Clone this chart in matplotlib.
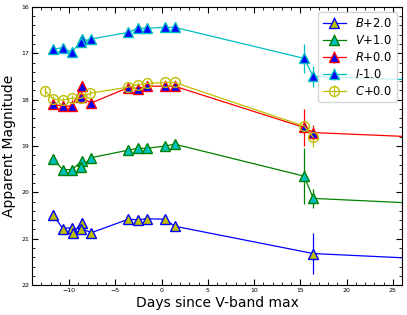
import matplotlib
matplotlib.use("Agg")
import matplotlib.pyplot as plt
from matplotlib.ticker import MultipleLocator

# ---- data ----
b_x = [-11.7, -10.7, -9.7, -9.6, -8.6, -8.7, -7.6, -3.6, -2.6, -1.6, 0.4, 1.4, 16.4]
b_y = [20.49, 20.78, 20.76, 20.87, 20.66, 20.78, 20.87, 20.58, 20.59, 20.57, 20.58, 20.73, 21.32]
b_e = [0.04, 0.05, 0.05, 0.05, 0.05, 0.05, 0.05, 0.04, 0.04, 0.04, 0.04, 0.05, 0.45]

v_x = [-11.7, -10.7, -9.7, -8.6, -8.7, -7.6, -3.6, -2.6, -1.6, 0.4, 1.4, 15.4, 16.4]
v_y = [19.28, 19.51, 19.51, 19.32, 19.46, 19.25, 19.09, 19.05, 19.05, 19.00, 18.96, 19.65, 20.13]
v_e = [0.03, 0.04, 0.04, 0.04, 0.04, 0.03, 0.03, 0.03, 0.03, 0.03, 0.03, 0.60, 0.20]

r_x = [-11.7, -10.7, -9.7, -8.6, -8.7, -7.6, -3.6, -2.6, -1.6, 0.4, 1.4, 15.4, 16.4]
r_y = [18.10, 18.14, 18.14, 17.71, 17.95, 18.07, 17.74, 17.76, 17.71, 17.71, 17.71, 18.60, 18.71]
r_e = [0.03, 0.04, 0.04, 0.04, 0.04, 0.03, 0.03, 0.03, 0.03, 0.03, 0.03, 0.40, 0.16]

i_x = [-11.7, -10.7, -9.7, -8.6, -8.7, -7.6, -3.6, -2.6, -1.6, 0.4, 1.4, 15.4, 16.4]
i_y = [16.91, 16.88, 16.98, 16.70, 16.75, 16.69, 16.55, 16.46, 16.46, 16.44, 16.44, 17.11, 17.50]
i_e = [0.04, 0.04, 0.06, 0.04, 0.04, 0.04, 0.03, 0.03, 0.03, 0.03, 0.03, 0.31, 0.22]

c_x = [-12.6, -11.7, -10.7, -9.7, -8.7, -7.7, -3.6, -2.6, -1.6, 0.4, 1.4, 15.4, 16.4]
c_y = [17.81, 17.99, 18.01, 17.97, 17.97, 17.86, 17.73, 17.68, 17.65, 17.63, 17.63, 18.57, 18.81]
c_e = [0.09, 0.07, 0.07, 0.07, 0.07, 0.07, 0.06, 0.06, 0.06, 0.06, 0.06, 0.10, 0.21]

# line continuation beyond the last epoch (model tail)
tail_x = [16.4, 27.0]
b_tail = [21.32, 21.42]
v_tail = [20.13, 20.23]
r_tail = [18.71, 18.80]
i_tail = [17.50, 17.57]

labels = ["$B$+2.0", "$V$+1.0", "$R$+0.0", "$I$-1.0", "$C$+0.0"]

fig = plt.figure(figsize=(4.07, 3.15), dpi=100)
ax = fig.add_axes([0.079, 0.095, 0.909, 0.883])

ms = 7
lw = 0.9
ax.errorbar(b_x, b_y, yerr=b_e, fmt='-^', color='b', mfc=(0.75, 0.75, 0), mec='b',
            ms=ms, lw=lw, elinewidth=lw, capsize=0, label=labels[0])
ax.errorbar(v_x, v_y, yerr=v_e, fmt='-^', color='g', mfc=(0, 0.75, 0.75), mec='g',
            ms=ms, lw=lw, elinewidth=lw, capsize=0, label=labels[1])
ax.errorbar(c_x, c_y, yerr=c_e, fmt='-o', color=(0.75, 0.75, 0), mfc='none',
            mec=(0.75, 0.75, 0), ms=ms, lw=lw, elinewidth=lw, capsize=0, label=labels[4],
            zorder=2.2)
ax.errorbar(r_x, r_y, yerr=r_e, fmt='-^', color='r', mfc='b', mec='r',
            ms=ms, lw=lw, elinewidth=lw, capsize=0, label=labels[2], zorder=2.1)
ax.errorbar(i_x, i_y, yerr=i_e, fmt='-^', color='c', mfc='b', mec='c',
            ms=ms, lw=lw, elinewidth=lw, capsize=0, label=labels[3])

ax.plot(tail_x, b_tail, '-', color='b', lw=lw)
ax.plot(tail_x, v_tail, '-', color='g', lw=lw)
ax.plot(tail_x, r_tail, '-', color='r', lw=lw)
ax.plot(tail_x, i_tail, '-', color='c', lw=lw)

ax.set_xlim(-14, 26)
ax.set_ylim(22, 16)
ax.xaxis.set_major_locator(MultipleLocator(5))
ax.xaxis.set_minor_locator(MultipleLocator(1))
ax.yaxis.set_major_locator(MultipleLocator(1))
ax.yaxis.set_minor_locator(MultipleLocator(0.2))
ax.tick_params(which='both', direction='in', top=True, right=True, labelsize=4.5, pad=2)
ax.tick_params(which='major', length=4, width=0.8)
ax.tick_params(which='minor', length=2, width=0.6)
for s in ax.spines.values():
    s.set_linewidth(0.8)

ax.set_xlabel("Days since V-band max", fontsize=10, labelpad=2)
ax.set_ylabel("Apparent Magnitude", fontsize=10, labelpad=4)

h, l = ax.get_legend_handles_labels()
order = [labels.index(x) for x in labels]
hd = dict(zip(l, h))
ax.legend([hd[x] for x in labels], labels, loc='upper right', fontsize=8.3,
          borderpad=0.4, labelspacing=0.35, handletextpad=0.8, borderaxespad=0.45)

fig.savefig("out.png", dpi=100)
